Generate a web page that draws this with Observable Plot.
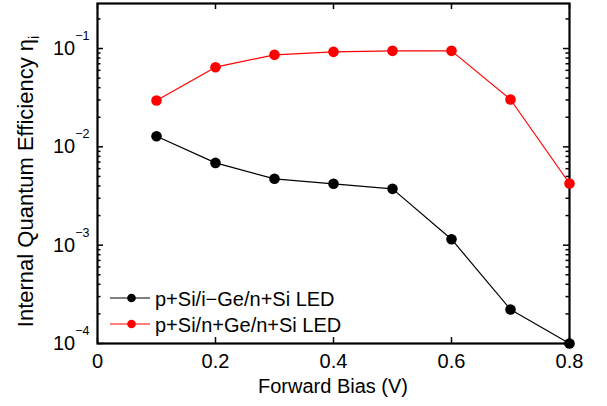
<!DOCTYPE html>
<html><head>
<meta charset="utf-8">
<script src="https://cdn.jsdelivr.net/npm/d3@7"></script>
<script src="https://cdn.jsdelivr.net/npm/@observablehq/plot@0.6"></script>
<style>
body{margin:0;background:#fff;}
#chart svg{display:block;}
</style>
</head><body><div id="chart"></div>
<script>
// ---- data ----
const bias   = [0.1, 0.2, 0.3, 0.4, 0.5, 0.6, 0.7, 0.8];
const iGeLED = [0.0128, 0.00687, 0.00473, 0.00421, 0.00374, 0.00115, 0.000222, 0.0001];
const nGeLED = [0.0296, 0.0646, 0.0863, 0.0925, 0.0947, 0.0947, 0.0303, 0.00424];
const seriesNames  = ["p+Si/i\u2212Ge/n+Si LED", "p+Si/n+Ge/n+Si LED"];
const seriesColors = ["#000000", "#ff0000"];
const xTicks = [0, 0.2, 0.4, 0.6, 0.8];
const xTickLabels = ["0", "0.2", "0.4", "0.6", "0.8"];
const yTicks = [1e-4, 1e-3, 1e-2, 1e-1];
const yTickBase = "10";
const yTickExponents = ["\u22124", "\u22123", "\u22122", "\u22121"];
const xLabel = "Forward Bias (V)";
const yLabel = "Internal Quantum Efficiency \u03b7";
const yLabelSub = "i";
const yDomain = [1e-4, 0.287];
const xDomain = [0, 0.8];

// ---- layout ----
const W = 607, H = 406;
const mL = 97, mR = 38, mT = 3, mB = 63;
const innerW = W - mL - mR, innerH = H - mT - mB;
const FONT = "'Liberation Sans', Arial, Helvetica, sans-serif";

const rows = [];
bias.forEach((b, i) => {
  rows.push({x: b, y: iGeLED[i], s: seriesNames[0]});
});
bias.forEach((b, i) => {
  rows.push({x: b, y: nGeLED[i], s: seriesNames[1]});
});

const yMinor = d3.scaleLog().domain(yDomain).ticks().filter(v => !yTicks.some(t => Math.abs(t - v) / t < 1e-6));

const majLen = 6, minLen = 3.5;

const svg = Plot.plot({
  width: W, height: H,
  marginLeft: mL, marginRight: mR, marginTop: mT, marginBottom: mB,
  style: {fontFamily: FONT, fontSize: "20px", background: "#fff", color: "#000", overflow: "visible"},
  x: {domain: xDomain, label: null},
  y: {type: "log", domain: yDomain, label: null},
  color: {domain: seriesNames, range: seriesColors},
  marks: [
    Plot.tickX(xTicks, {x: d => d, insetTop: innerH - majLen, stroke: "#000", strokeWidth: 1.5}),
    Plot.tickX(xTicks, {x: d => d, insetBottom: innerH - majLen, stroke: "#000", strokeWidth: 1.5}),
    Plot.tickY(yTicks, {y: d => d, insetRight: innerW - majLen, stroke: "#000", strokeWidth: 1.5}),
    Plot.tickY(yTicks, {y: d => d, insetLeft: innerW - majLen, stroke: "#000", strokeWidth: 1.5}),
    Plot.tickY(yMinor, {y: d => d, insetRight: innerW - minLen, stroke: "#000", strokeWidth: 1.5}),
    Plot.tickY(yMinor, {y: d => d, insetLeft: innerW - minLen, stroke: "#000", strokeWidth: 1.5}),
    Plot.frame({stroke: "#000", strokeWidth: 2.2}),
    Plot.axisX({ticks: xTicks, tickSize: 0, tickPadding: 10, tickFormat: d => xTickLabels[xTicks.indexOf(d)], fontSize: 20, label: null}),
    Plot.axisY({ticks: yTicks, tickSize: 0, tickPadding: 8, tickFormat: d => yTickBase, fontSize: 20, label: null}),
    Plot.line(rows, {x: "x", y: "y", z: "s", stroke: "s", strokeWidth: 1.2}),
    Plot.dot(rows, {x: "x", y: "y", fill: "s", r: 5.3, stroke: null})
  ]
});

document.getElementById("chart").appendChild(svg);

// superscript exponents on the y tick labels (texts that read "10", in tick order)
const s = d3.select(svg);
const yLabelNodes = Array.from(svg.querySelectorAll("text")).filter(n => n.textContent.trim() === yTickBase);
yLabelNodes.forEach((node, i) => {
  const t = d3.select(node);
  t.selectAll("*").remove();
  t.text(null);
  t.append("tspan").text(yTickBase);
  t.append("tspan").attr("dy", -15).attr("font-size", 12.5).text(yTickExponents[i]);
});

// axis titles
s.append("text")
  .attr("x", mL + innerW / 2).attr("y", 392.5)
  .attr("text-anchor", "middle").attr("font-size", 20).attr("fill", "#000")
  .text(xLabel);

const yl = s.append("text")
  .attr("transform", `translate(33,${(28 + 335) / 2}) rotate(-90)`)
  .attr("text-anchor", "middle").attr("font-size", 22).attr("fill", "#000");
yl.append("tspan").text(yLabel);
yl.append("tspan").attr("dy", 6).attr("font-size", 14).text(yLabelSub);

// legend (inside plot, bottom-left)
const lg = s.append("g").attr("font-size", 20).attr("text-anchor", "start");
seriesNames.forEach((name, i) => {
  const cy = 298 + 26 * i;
  lg.append("line").attr("x1", 110).attr("x2", 150).attr("y1", cy).attr("y2", cy)
    .attr("stroke", seriesColors[i]).attr("stroke-width", 1.2);
  lg.append("circle").attr("cx", 131.5).attr("cy", cy).attr("r", 4.3).attr("fill", seriesColors[i]);
  lg.append("text").attr("x", 155).attr("y", cy + 8).attr("text-anchor", "start").attr("fill", "#000").text(name);
});
</script>
</body></html>
